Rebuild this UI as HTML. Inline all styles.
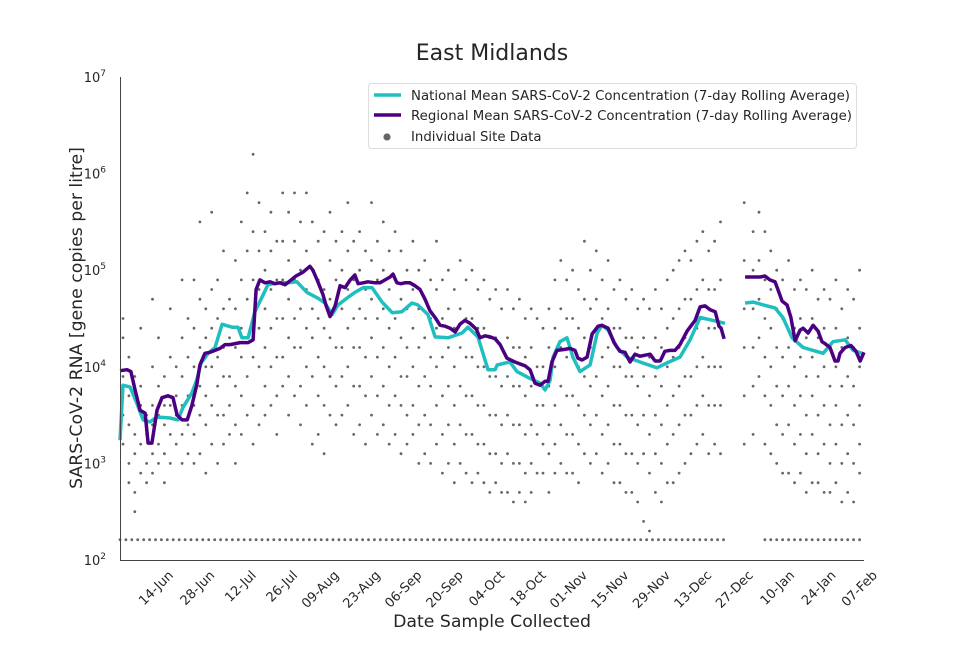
<!DOCTYPE html>
<html><head><meta charset="utf-8"><style>
body{margin:0;background:#fff;}
svg text{font-family:"DejaVu Sans","Liberation Sans",sans-serif;fill:#262626;}
</style></head><body>
<svg id="chart" width="960" height="640" xmlns="http://www.w3.org/2000/svg">
<rect width="960" height="640" fill="#fff"/>
<text x="492" y="60" font-size="22" text-anchor="middle">East Midlands</text>
<g id="plot"></g>
<line x1="120.5" y1="77" x2="120.5" y2="560" stroke="#444" stroke-width="1"/>
<line x1="120" y1="560.5" x2="864" y2="560.5" stroke="#444" stroke-width="1"/>
<g id="yticks"></g>
<g id="xticks"></g>
<text transform="translate(82,318) rotate(-90)" font-size="17.3" text-anchor="middle">SARS-CoV-2 RNA [gene copies per litre]</text>
<text x="492" y="627" font-size="17.3" text-anchor="middle">Date Sample Collected</text>
<g>
<rect x="368.5" y="83.5" width="488" height="65" rx="3" fill="#fff" stroke="#ddd"/>
<line x1="374" y1="95" x2="401" y2="95" stroke="#1fbfbf" stroke-width="3.5"/>
<text x="411" y="100" font-size="13.3" textLength="439">National Mean SARS-CoV-2 Concentration (7-day Rolling Average)</text>
<line x1="374" y1="115" x2="401" y2="115" stroke="#4b0082" stroke-width="3.5"/>
<text x="411" y="120" font-size="13.3" textLength="441">Regional Mean SARS-CoV-2 Concentration (7-day Rolling Average)</text>
<circle cx="387" cy="137" r="3.6" fill="#666"/>
<text x="411" y="141" font-size="13.3">Individual Site Data</text>
</g>
</svg>
<script>
// day offsets from 31-May; values are log10(gene copies per litre)
const regionalDays=[0,2.4,3.7,5.1,6.8,8.5,9.5,10.8,12.5,14.2,16.2,17.9,19.3,21,22.7,24.3,26,27,28.7,30.4,32.1,33.8,35.5,37.2,38.9,40.6,43.3,45,46,47.3,49,50.7,52.4,54.1,55.8,57.5,59.5,61.9,64.2,65.2,66.9,68.6,69.6,71,72.7,74.4,76.1,77.8,79.4,80.5,82.2,83.8,86.2,87.9,89.6,91.3,92.3,93.6,95,96.3,98,99.7,101.4,103.1,104.8,106.5,108.2,109.9,111.6,113.3,114.9,116.6,118.3,120.4,121.7,123.4,125.1,126.8,128.5,130.8,133.5,136.9,138.6,140.3,142,143.7,144.7,146,147.7,150.4,152.1,153.8,154.8,156.2,157.9,159.6,161.6,162.9,165,167,169,170.7,172.4,174.1,175.8,179.2,180.9,182.6,184.2,185.9,187.6,189.3,191.7,194.4,196.1,197.8,199.5,201.2,202.5,203.2,204.2,207,211.3,216.4,218,219.7,221.4,222.4,223.8,225.5,226.8,228.2,229.9,230.9,232.6,234.3,236,237.3,238.3,240,241.7,242.7,243.4,245.1,247.1,248.8,250.2,251.5];
const regionalLog=[3.96,3.97,3.95,3.76,3.55,3.52,3.21,3.21,3.55,3.68,3.70,3.68,3.50,3.45,3.45,3.60,3.82,4.02,4.14,4.15,4.17,4.19,4.23,4.23,4.24,4.25,4.25,4.28,4.80,4.90,4.87,4.88,4.86,4.87,4.85,4.89,4.94,4.98,5.04,5.00,4.88,4.75,4.64,4.52,4.63,4.84,4.82,4.90,4.95,4.86,4.87,4.88,4.87,4.87,4.90,4.93,4.96,4.87,4.86,4.87,4.87,4.84,4.80,4.70,4.58,4.51,4.43,4.42,4.40,4.36,4.44,4.48,4.45,4.39,4.30,4.32,4.31,4.29,4.23,4.09,4.05,4.01,3.97,3.83,3.81,3.85,3.85,4.05,4.17,4.18,4.19,4.17,4.09,4.07,4.10,4.34,4.42,4.43,4.40,4.25,4.16,4.15,4.05,4.13,4.11,4.13,4.06,4.06,4.16,4.17,4.17,4.23,4.37,4.48,4.62,4.63,4.59,4.57,4.42,4.40,4.29,null,4.93,4.93,4.94,4.90,4.88,4.80,4.68,4.64,4.51,4.27,4.38,4.40,4.35,4.43,4.37,4.26,4.24,4.20,4.06,4.06,4.14,4.20,4.22,4.16,4.06,4.15];
const nationalDays=[0,1,3.4,5.7,7.8,10.1,12.5,16.9,19.6,21.3,24.3,26,27.4,29.8,32.1,34.5,37.9,39.9,41.2,43.3,45.6,48,50,53.4,56.8,59.8,63.2,66.9,69.3,71.7,73.7,77.1,79.4,82.2,85.2,88.6,92,95.3,98.7,100.7,104.1,106.5,110.9,115.6,117.6,121,124.4,126.8,127.5,131.8,134.2,138.6,142,143.7,145.4,146.4,148.7,151.1,153.1,155.5,158.9,161.3,162.9,165,168,171.4,175.8,181.5,184.9,189.3,192.7,196.1,200.5,204.5,207,211.3,214,218.7,221.4,224.1,227.2,230.9,234.3,237.7,241,245.1,247.8,250.8];
const nationalLog=[3.24,3.81,3.79,3.62,3.45,3.43,3.48,3.47,3.45,3.58,3.73,3.87,4.04,4.14,4.20,4.44,4.41,4.41,4.30,4.30,4.57,4.72,4.85,4.87,4.87,4.88,4.77,4.71,4.66,4.54,4.64,4.72,4.77,4.82,4.82,4.67,4.56,4.57,4.66,4.64,4.54,4.31,4.30,4.35,4.41,4.31,3.97,3.97,4.02,4.05,3.95,3.88,3.83,3.76,3.86,4.10,4.26,4.30,4.10,3.95,4.02,4.35,4.43,4.38,4.20,4.10,4.05,3.99,4.04,4.10,4.28,4.51,4.48,4.45,null,4.66,4.67,4.63,4.61,4.51,4.30,4.20,4.17,4.14,4.26,4.28,4.17,4.14];
// individual site samples: [day, log10 values...]
const siteGroups=[
[1,4.5,4.3,3.9,3.5,3.2],[3,4.1,3.7,3.4,3.0,2.8],[5,3.9,3.3,3.1,2.7,2.5],[7,4.4,3.8,3.6,3.2,2.9],[9,3.5,3.3,3.0,2.8],[11,4.7,4.0,3.6,3.4,3.1,2.9],[13,4.3,3.8,3.5,3.2,3.0],[15,3.9,3.6,3.4,3.1,2.8],[17,4.6,4.1,3.6,3.3,3.0],[19,4.0,3.7,3.5,3.2],[21,4.9,4.3,3.9,3.6,3.3,3.0],[23,4.5,4.1,3.7,3.4,3.1],[25,4.9,4.4,4.0,3.6,3.3,3.0],[27,5.5,4.7,4.2,3.8,3.5,3.1],[29,4.6,4.3,4.0,3.7,3.4,2.9],[31,5.6,4.8,4.4,4.0,3.6,3.2],[33,4.9,4.5,4.1,3.8,3.5,3.0],[35,5.2,4.6,4.2,3.9,3.5,3.2],[37,4.7,4.3,3.9,3.6,3.3],[39,5.1,4.6,4.2,3.8,3.4,3.0],[41,5.5,4.9,4.4,4.1,3.7,3.3],[43,5.8,5.2,4.7,4.3,3.9,3.5],[45,6.2,5.4,4.9,4.5,4.1,3.6,3.2],[47,5.7,5.2,4.8,4.4,4.0,3.4],[49,5.4,5.0,4.6,4.2,3.8,3.5],[51,5.6,5.2,4.8,4.4,4.0,3.6],[53,5.3,4.9,4.5,4.1,3.7,3.3],[55,5.8,5.3,4.9,4.5,4.1,3.8],[57,5.6,5.1,4.7,4.3,3.9,3.5],[59,5.8,5.3,4.9,4.5,4.2,3.7],[61,5.5,5.0,4.6,4.2,3.8,3.4],[63,5.8,5.2,4.8,4.4,4.0,3.6],[65,5.5,5.0,4.6,4.3,3.9,3.2],[67,5.3,4.9,4.5,4.1,3.7,3.3],[69,5.4,4.8,4.4,4.0,3.6,3.1],[71,5.6,5.1,4.7,4.3,3.9,3.5],[73,5.3,4.9,4.6,4.2,3.8,3.4],[75,5.4,5.0,4.6,4.2,3.9,3.5],[77,5.7,5.2,4.8,4.4,4.0,3.6],[79,5.3,4.9,4.5,4.2,3.8,3.3],[81,5.4,5.0,4.6,4.2,3.8,3.4],[83,5.2,4.8,4.5,4.1,3.7,3.2],[85,5.7,5.1,4.7,4.3,3.9,3.5],[87,5.3,4.9,4.5,4.1,3.7,3.3],[89,5.5,5.0,4.6,4.2,3.8,3.4],[91,5.2,4.8,4.4,4.0,3.6,3.2],[93,5.4,4.9,4.5,4.1,3.7,3.3],[95,5.2,4.7,4.3,3.9,3.6,3.1],[97,5.0,4.6,4.2,3.9,3.5,3.2],[99,5.3,4.8,4.4,4.0,3.6,3.3],[101,5.0,4.6,4.2,3.8,3.4,3.0],[103,5.1,4.7,4.3,3.9,3.5,3.1],[105,4.9,4.5,4.1,3.8,3.4,3.0],[107,5.3,4.8,4.4,4.0,3.6,3.2],[109,4.9,4.5,4.1,3.7,3.3,2.9],[111,5.0,4.6,4.2,3.8,3.4,3.0],[113,4.8,4.4,4.0,3.6,3.2,2.8],[115,5.1,4.6,4.2,3.8,3.4,3.0],[117,4.9,4.5,4.1,3.7,3.3,2.9],[119,5.0,4.5,4.1,3.7,3.3,2.8],[121,4.8,4.4,4.0,3.6,3.2,2.9],[123,4.9,4.4,4.0,3.6,3.2,2.8],[125,4.7,4.3,3.9,3.5,3.1,2.7],[127,4.8,4.3,3.9,3.5,3.1,2.8],[129,4.6,4.2,3.8,3.4,3.0,2.7],[131,4.8,4.3,3.9,3.5,3.1,2.7],[133,4.6,4.2,3.8,3.4,3.0,2.6],[135,4.7,4.2,3.8,3.4,3.0,2.7],[137,4.5,4.1,3.7,3.3,2.9,2.6],[139,4.6,4.2,3.8,3.4,3.0,2.7],[141,4.5,4.0,3.6,3.3,2.9],[143,4.4,4.0,3.6,3.2,2.9],[145,4.6,4.2,3.8,3.4,3.1,2.7],[147,4.9,4.4,4.0,3.6,3.2,2.9],[149,5.1,4.6,4.2,3.8,3.4,3.0],[151,4.9,4.5,4.1,3.7,3.3,2.9],[153,5.0,4.5,4.1,3.7,3.3,2.9],[155,4.8,4.4,4.0,3.6,3.2,2.8],[157,5.3,4.7,4.3,3.9,3.5,3.1],[159,5.0,4.6,4.2,3.8,3.4,3.0],[161,5.2,4.7,4.3,3.9,3.5,3.1],[163,4.9,4.5,4.1,3.7,3.3,2.9],[165,5.1,4.6,4.2,3.8,3.4,3.0],[167,4.8,4.4,4.0,3.6,3.2,2.8],[169,4.9,4.4,4.0,3.6,3.2,2.8],[171,4.7,4.3,3.9,3.5,3.1,2.7],[173,4.8,4.3,3.9,3.5,3.1,2.7],[175,4.6,4.2,3.8,3.4,3.0,2.6],[177,4.7,4.3,3.9,3.5,3.1,2.4],[179,4.6,4.1,3.7,3.3,2.9,2.3],[181,4.8,4.3,3.9,3.5,3.1,2.7],[183,4.6,4.2,3.8,3.4,3.0,2.6],[185,4.9,4.4,4.0,3.6,3.2,2.8],[187,5.0,4.5,4.1,3.7,3.3,2.8],[189,5.1,4.6,4.2,3.8,3.4,2.9],[191,5.2,4.7,4.3,3.9,3.5,3.0],[193,5.1,4.7,4.3,3.9,3.5,3.1],[195,5.3,4.8,4.4,4.0,3.6,3.2],[197,5.4,4.9,4.5,4.1,3.7,3.3],[199,5.2,4.8,4.4,4.0,3.6,3.1],[201,5.3,4.8,4.4,4.0,3.6,3.2],[203,5.5,4.9,4.4,4.0,3.6,3.1],
[211,5.7,5.1,4.6,4.2,3.7,3.2],[214,5.4,5.0,4.6,4.2,3.8,3.3],[216,5.6,5.1,4.7,4.3,3.9],[218,5.4,4.9,4.5,4.1,3.7,3.2],[220,5.2,4.8,4.4,4.0,3.6,3.1],[222,5.0,4.6,4.2,3.8,3.4,3.0],[224,4.9,4.5,4.1,3.7,3.3,2.9],[226,5.1,4.6,4.2,3.8,3.4,2.9],[228,4.8,4.4,4.0,3.6,3.2,2.8],[230,4.9,4.5,4.1,3.7,3.3,2.9],[232,4.8,4.3,3.9,3.5,3.1,2.7],[234,5.0,4.5,4.1,3.7,3.3,2.8],[236,4.7,4.3,3.9,3.5,3.1,2.8],[238,4.8,4.4,4.0,3.6,3.2,2.7],[240,4.7,4.2,3.8,3.4,3.0,2.7],[242,4.9,4.4,4.0,3.6,3.2,2.8],[244,4.6,4.2,3.8,3.4,3.0,2.6],[246,4.8,4.3,3.9,3.5,3.1,2.7],[248,4.7,4.2,3.8,3.4,3.0,2.6],[250,5.0,4.4,4.0,3.6,3.2,2.9]
];
// samples at limit of detection (day offsets)
const lodDays=[0,2,4,6,8,10,12,14,16,18,20,22,24,26,28,30,32,34,36,38,40,42,44,46,48,50,52,54,56,58,60,62,64,66,68,70,72,74,76,78,80,82,84,86,88,90,92,94,96,98,100,102,104,106,108,110,112,114,116,118,120,122,124,126,128,130,132,134,136,138,140,142,144,146,148,150,152,154,156,158,160,162,164,166,168,170,172,174,176,178,180,182,184,186,188,190,192,194,196,198,200,202,204,218,220,222,224,226,228,230,232,234,236,238,240,242,244,246,248,250];
const lodLog=2.21;
const tickDays=[13.5,27.5,41.5,55.5,69.5,83.5,97.5,111.5,125.5,139.5,153.5,167.5,181.5,195.5,209.5,223.5,237.5,251.5];
const tickLabels=["14-Jun","28-Jun","12-Jul","26-Jul","09-Aug","23-Aug","06-Sep","20-Sep","04-Oct","18-Oct","01-Nov","15-Nov","29-Nov","13-Dec","27-Dec","10-Jan","24-Jan","07-Feb"];
const yExps=[2,3,4,5,6,7];

const NS="http://www.w3.org/2000/svg";
const X0=120,X1=864,DAYMAX=251.5;
function xs(d){return X0+(d/DAYMAX)*(X1-X0);}
function ys(l){return 560-(l-2)*(483/5);}
function mk(t,a){const e=document.createElementNS(NS,t);for(const k in a)e.setAttribute(k,a[k]);return e;}
const plot=document.getElementById('plot');
for(const g of siteGroups){
  for(let i=1;i<g.length;i++){
    const c=mk('circle',{cx:xs(g[0]).toFixed(1),cy:ys(g[i]).toFixed(1),r:1.4,fill:'#666'});
    
    
    plot.appendChild(c);
  }
}
for(const d of lodDays){
  const c=mk('circle',{cx:xs(d).toFixed(1),cy:ys(lodLog).toFixed(1),r:1.4,fill:'#666'});
  
  
  plot.appendChild(c);
}
function pathFor(days,vals){
  let s='',pen=false;
  for(let i=0;i<days.length;i++){
    if(vals[i]===null){pen=false;continue;}
    s+=(pen?'L':'M')+xs(days[i]).toFixed(1)+','+ys(vals[i]).toFixed(1);pen=true;
  }
  return s;
}
const nl=mk('path',{d:pathFor(nationalDays,nationalLog),fill:'none',stroke:'#1fbfbf','stroke-width':3.5,'stroke-linejoin':'round'});


plot.appendChild(nl);
const rl=mk('path',{d:pathFor(regionalDays,regionalLog),fill:'none',stroke:'#4b0082','stroke-width':3.5,'stroke-linejoin':'round'});


plot.appendChild(rl);
const yt=document.getElementById('yticks');
for(const e of yExps){
  const t=mk('text',{x:106,y:ys(e)+5,'font-size':13,'text-anchor':'end'});
  t.textContent='10';
  const s=mk('tspan',{dy:-6,'font-size':9});s.textContent=String(e);
  t.appendChild(s);
  
  
  yt.appendChild(t);
}
const xt=document.getElementById('xticks');
tickDays.forEach((d,i)=>{
  const x=xs(d)+14,y=576;
  const t=mk('text',{x:x,y:y,'font-size':13,'text-anchor':'end',transform:`rotate(-45 ${x} ${y})`});
  t.textContent=tickLabels[i];
  
  
  xt.appendChild(t);
});
</script>
</body></html>
